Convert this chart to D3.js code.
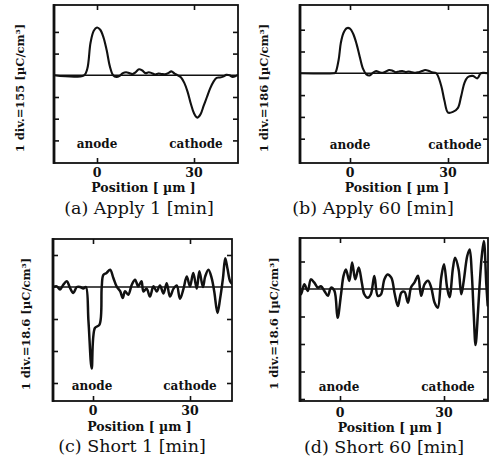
<!DOCTYPE html>
<html>
<head>
<meta charset="utf-8">
<script src="https://cdn.jsdelivr.net/npm/d3@7"></script>
<style>
  html, body { margin: 0; padding: 0; background: #fff; }
  svg { display: block; }
  .bold { font-family: "DejaVu Serif", "Liberation Serif", serif; font-weight: bold; fill: #111; }
  .cap { font-family: "DejaVu Serif", "Liberation Serif", serif; fill: #111; }
</style>
</head>
<body>
<svg id="chart" width="498" height="469"></svg>
<script>
// Space-charge distribution profiles (position in µm, charge in divisions)

// (a) Apply 1 min
const posA = [-13.3, -4, -3, -2, -1, 0, 1, 2, 3, 4, 5, 6, 7, 8, 9, 10, 11, 12, 13, 14, 15, 16, 17, 18, 19, 20, 21, 22, 23, 24, 25, 26, 27, 28, 29, 30, 31, 32, 33, 34, 35, 36, 37, 38, 39, 40, 41, 42, 43.6];
const chargeA = [0, 0, 0.3, 1.5, 2.05, 2.2, 2.1, 1.75, 1.15, 0.4, 0.0, -0.08, -0.03, 0.1, 0.14, 0.1, 0.06, 0.15, 0.28, 0.22, 0.1, 0.14, 0.1, 0.04, 0.08, 0.06, 0.05, 0.1, 0.18, 0.08, 0.0, -0.1, -0.35, -0.75, -1.3, -1.75, -1.95, -1.8, -1.4, -1.0, -0.6, -0.3, -0.12, -0.1, -0.06, 0.02, 0.0, -0.08, 0.02];

// (b) Apply 60 min
const posB = [-15.3, -5, -4.5, -3.5, -2.8, -2, -1, 0, 1, 2, 3, 4, 5, 6, 7, 8, 9, 10, 11, 12, 13, 14, 15, 16, 17, 18, 19, 20, 21, 22, 23, 24, 25, 26.4, 27.9, 28.9, 30, 31.5, 33, 34, 35, 36, 37.6, 39, 40, 41, 42.2];
const chargeB = [0, 0, 0.02, 0.6, 1.4, 1.85, 2.07, 2.05, 1.8, 1.35, 0.75, 0.2, -0.05, -0.1, 0.02, 0.1, 0.05, 0.02, 0.08, 0.15, 0.12, 0.05, 0.08, 0.1, 0.06, 0.08, 0.05, 0.02, 0.05, 0.1, 0.15, 0.12, 0.05, 0.0, -0.56, -1.25, -1.8, -1.77, -1.6, -1.07, -0.46, -0.18, -0.12, -0.23, 0.0, 0.02, 0.0];

// (c) Short 1 min
const posC = [-12.4, -11.2, -10.2, -9.2, -8.1, -7.1, -6.1, -5.0, -4.0, -3.0, -2.2, -1.4, -0.4, 0.6, 2.0, 2.7, 3.2, 4.2, 5.3, 6.3, 7.3, 8.4, 9.2, 9.9, 10.9, 12.0, 13.0, 14.0, 15.0, 15.6, 16.6, 17.6, 18.7, 19.7, 20.7, 21.8, 22.8, 23.8, 24.9, 25.9, 26.9, 28.0, 29.0, 30.0, 31.0, 32.1, 32.9, 34.0, 34.7, 35.7, 36.7, 37.5, 38.5, 39.3, 40.2, 40.9, 41.6, 42.4, 43];
const chargeC = [0, 0.02, -0.08, 0.07, 0.18, -0.03, -0.19, 0, 0, -0.05, 0, -1.07, -2.55, -1.28, -1.18, 0, 0.38, 0.44, 0.54, 0.28, 0.02, -0.13, -0.34, -0.13, -0.24, 0.07, 0.23, 0.02, 0.18, -0.14, -0.05, -0.3, 0.02, -0.14, 0.05, -0.2, 0.12, -0.3, -0.05, 0.05, -0.37, -0.05, 0.33, 0.02, 0.44, -0.05, 0.49, 0, 0.33, 0.54, 0.28, -0.14, -0.81, -0.37, 0.28, 0.9, 0.57, 0.18, 0.1];

// (d) Short 60 min
const posD = [-11.5, -11.2, -10.3, -9.3, -8.4, -7.4, -6.4, -5.5, -4.5, -3.5, -2.6, -1.6, -0.7, 0.3, 1.0, 1.7, 2.7, 3.5, 4.4, 5.4, 6.3, 7.0, 8.0, 8.9, 9.9, 10.9, 11.8, 12.8, 13.7, 14.8, 15.8, 16.7, 17.7, 18.6, 19.6, 20.5, 21.5, 22.5, 23.4, 24.4, 25.4, 26.3, 27.3, 28.2, 29.2, 30.0, 30.9, 31.6, 32.6, 33.2, 34.2, 35.0, 35.7, 36.7, 37.4, 38.0, 38.6, 39.1, 39.8, 40.3, 40.9, 41.5, 42.2, 42.6];
const chargeD = [-0.1, -0.19, 0.17, -0.07, 0.35, 0.23, 0.05, 0.1, -0.07, -0.25, 0.05, -0.07, -1.05, -0.19, 0.47, 0.71, 0.29, 0.96, 0.35, 0.78, 0.23, -0.19, -0.32, -0.19, 0.47, -0.25, -0.2, 0.35, 0.53, 0.41, -0.19, -0.62, -0.13, -0.1, -0.5, 0.06, 0.24, 0.48, -0.25, 0.18, 0.3, 0.06, -0.5, -0.68, 0.42, 0.9, 0.05, -0.3, 0.78, 1.14, 0.72, -0.19, 0.3, 1.2, 1.44, 0.6, -0.98, -2.04, -0.85, 0.2, 1.2, 1.75, 0.18, -0.6];

// Axis ticks and texts
const xTickValues = [0, 30];
const xTickLabels = ["0", "30"];
const yTicksApply = [-3, -2, -1, 1, 2];
const yTicksShortC = [-3, -2, -1, 1];
const yTicksShortD = [-4, -3, -2, -1, 1];
const xTitle = "Position [ µm ]";
const electrodeLabels = ["anode", "cathode"];
const yTitles = ["1 div.=155 [µC/cm³]", "1 div.=186 [µC/cm³]", "1 div.=18.6 [µC/cm³]", "1 div.=18.6 [µC/cm³]"];
const captions = ["(a) Apply 1 [min]", "(b) Apply 60 [min]", "(c) Short 1 [min]", "(d) Short 60 [min]"];

// Panel layout (frame edges in px, scale anchors, text placement)
const panels = [
  { pos: posA, q: chargeA, yTicks: yTicksApply, frame: [54, 5, 238, 163], x0: 97, x30: 194, y0: 75.3, div: 21.7,
    yTitleX: 24, electrodeY: 148, anodeX: 97, cathodeX: 196, capX: 139, capY: 214, tickDy: 13.5, titleDy: 28.5, sw: 2.1 },
  { pos: posB, q: chargeB, yTicks: yTicksApply, frame: [300, 5, 488, 163], x0: 350, x30: 448, y0: 73.3, div: 21.8,
    yTitleX: 268, electrodeY: 149, anodeX: 350, cathodeX: 455, capX: 373, capY: 214, tickDy: 13.5, titleDy: 28.5, sw: 2.1 },
  { pos: posC, q: chargeC, yTicks: yTicksShortC, frame: [53, 239, 232, 401], x0: 93, x30: 190, y0: 287, div: 32,
    yTitleX: 30, electrodeY: 390, anodeX: 92, cathodeX: 190, capX: 132, capY: 452, tickDy: 14, titleDy: 30, sw: 2.5 },
  { pos: posD, q: chargeD, yTicks: yTicksShortD, frame: [300, 238, 488, 401], x0: 340, x30: 444, y0: 289, div: 27.5,
    yTitleX: 278, electrodeY: 391, anodeX: 339, cathodeX: 448, capX: 384, capY: 453, tickDy: 16, titleDy: 31, sw: 2.5 }
];

const svg = d3.select("#chart");

panels.forEach((p, i) => {
  const [l, t, r, b] = p.frame;
  const x = d3.scaleLinear().domain([0, 30]).range([p.x0, p.x30]);
  const y = d3.scaleLinear().domain([0, 1]).range([p.y0, p.y0 - p.div]);
  const g = svg.append("g");

  const clipId = "clip" + i;
  svg.append("clipPath").attr("id", clipId)
    .append("rect").attr("x", l).attr("y", t).attr("width", r - l).attr("height", b - t);

  // zero line
  g.append("line").attr("x1", l).attr("x2", r).attr("y1", y(0)).attr("y2", y(0))
    .attr("stroke", "#111").attr("stroke-width", 1.6);

  // charge profile
  const line = d3.line().x((d, k) => x(p.pos[k])).y(d => y(d)).curve(d3.curveCatmullRom.alpha(0.5));
  g.append("path").attr("d", line(p.q)).attr("clip-path", `url(#${clipId})`)
    .attr("fill", "none").attr("stroke", "#111").attr("stroke-width", p.sw)
    .attr("stroke-linejoin", "round").attr("stroke-linecap", "round");

  // inward ticks on all four sides
  const yAxisL = d3.axisRight(y).tickValues(p.yTicks).tickSize(5).tickFormat("");
  const yAxisR = d3.axisLeft(y).tickValues(p.yTicks).tickSize(5).tickFormat("");
  const xAxisB = d3.axisTop(x).tickValues(xTickValues).tickSize(5).tickFormat("");
  const xAxisT = d3.axisBottom(x).tickValues(xTickValues).tickSize(5).tickFormat("");
  [[yAxisL, `translate(${l},0)`], [yAxisR, `translate(${r},0)`], [xAxisB, `translate(0,${b})`], [xAxisT, `translate(0,${t})`]]
    .forEach(([ax, tr]) => {
      const a = g.append("g").attr("transform", tr).call(ax);
      a.select(".domain").remove();
      a.selectAll("line").attr("stroke", "#111").attr("stroke-width", 1.6);
    });

  // frame
  g.append("rect").attr("x", l).attr("y", t).attr("width", r - l).attr("height", b - t)
    .attr("fill", "none").attr("stroke", "#111").attr("stroke-width", 1.8);
  g.append("line").attr("x1", l).attr("x2", l).attr("y1", t - 0.9).attr("y2", b + 0.9)
    .attr("stroke", "#111").attr("stroke-width", 2.8);

  // tick labels
  xTickValues.forEach((v, k) => {
    g.append("text").attr("class", "bold").attr("x", x(v)).attr("y", b + p.tickDy)
      .attr("text-anchor", "middle").attr("font-size", 12.5).text(xTickLabels[k]);
  });

  // x title
  g.append("text").attr("class", "bold").attr("x", (x(0) + x(30)) / 2 - 2).attr("y", b + p.titleDy)
    .attr("text-anchor", "middle").attr("font-size", 12.5).text(xTitle);

  // electrode labels
  g.append("text").attr("class", "bold").attr("x", p.anodeX).attr("y", p.electrodeY)
    .attr("text-anchor", "middle").attr("font-size", 12).text(electrodeLabels[0]);
  g.append("text").attr("class", "bold").attr("x", p.cathodeX).attr("y", p.electrodeY)
    .attr("text-anchor", "middle").attr("font-size", 12).text(electrodeLabels[1]);

  // y title
  g.append("text").attr("class", "bold")
    .attr("transform", `translate(${p.yTitleX},${(t + b) / 2 + 4}) rotate(-90)`)
    .attr("text-anchor", "middle").attr("font-size", 11.5).text(yTitles[i]);

  // caption
  g.append("text").attr("class", "cap").attr("x", p.capX).attr("y", p.capY)
    .attr("text-anchor", "middle").attr("font-size", 17.5).text(captions[i]);
});
</script>
</body>
</html>
